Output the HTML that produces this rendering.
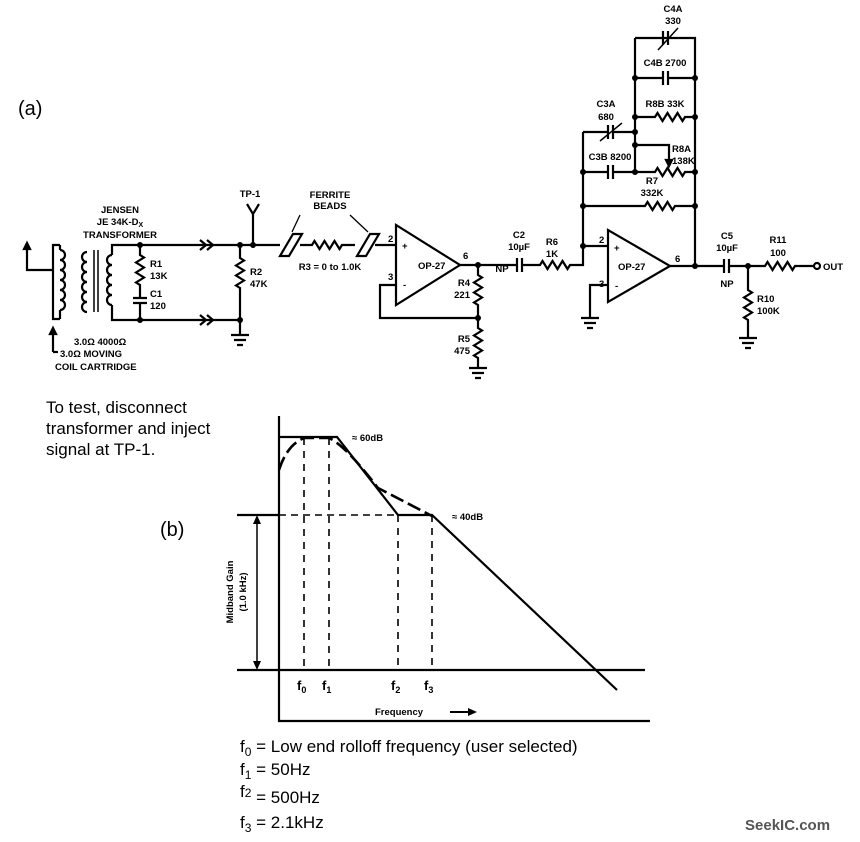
<!DOCTYPE html>
<html><head><meta charset="utf-8"><style>
body{margin:0;background:#fff;}
svg{display:block;}
.l{font-family:"Liberation Sans",Arial,sans-serif;font-weight:bold;font-size:9.5px;fill:#000;}
.n{font-family:"Liberation Sans",Arial,sans-serif;font-size:17px;fill:#000;}
</style></head><body>
<svg width="860" height="842" viewBox="0 0 860 842" xmlns="http://www.w3.org/2000/svg">
<rect width="860" height="842" fill="#fff"/>
<g fill="none" stroke="#000" stroke-width="2.2">
<path d="M27,245 V270 H53"/>
<path d="M27,243 l-3,6 h6 z" fill="#000"/>
<path d="M60,245 H53 V319 H60"/>
<path d="M60,250 a5,5 0 0 1 0,10 a5,5 0 0 1 0,10 a5,5 0 0 1 0,10 a5,5 0 0 1 0,10 a5,5 0 0 1 0,10 a5,5 0 0 1 0,10"/>
<path d="M60,245 V250 M60,310 V319"/>
<path d="M87,252 a5,5 0 0 0 0,10 a5,5 0 0 0 0,10 a5,5 0 0 0 0,10 a5,5 0 0 0 0,10 a5,5 0 0 0 0,10 a5,5 0 0 0 0,10"/>
<path d="M94,250 V312 M98,250 V312" stroke-width="1.5"/>
<path d="M112,255 a5,5 0 0 0 0,10 a5,5 0 0 0 0,10 a5,5 0 0 0 0,10 a5,5 0 0 0 0,10 a5,5 0 0 0 0,10"/>
<path d="M112,255 V245 H253 M112,305 V320 H240"/>
<path d="M53,352 V330"/><path d="M53,328 l-3,6 h6 z" fill="#000"/>
<path d="M53,352 H58"/>
<path d="M200,240 l6,5 l-6,5 M207,240 l6,5 l-6,5"/>
<path d="M200,315 l6,5 l-6,5 M207,315 l6,5 l-6,5"/>
<path d="M140,245 V255 l4,2.5 l-8,5 l8,5 l-8,5 l8,5 l-8,5 l4,2.5 V298 M133,298 H147 M133,303 H147 M140,303 V320"/>
<path d="M240,245 V258 l4,2.5 l-8,5 l8,5 l-8,5 l8,5 l-8,5 l4,2.5 V335"/>
<path d="M231,335 H249 M234,340 H246 M237,345 H243"/>
<path d="M253,245 V214 L247,204 M253,214 L259,204"/>
<path d="M253,245 H280 M300,245 H312 l2.5,-4 l5,8 l5,-8 l5,8 l5,-8 l5,8 l2.5,-4 H355 M375,245 H396"/>
<path d="M280,256 L293,234 H302 L289,256 Z"/>
<path d="M357,256 L370,234 H379 L366,256 Z"/>
<path d="M300,215 L292,232 M350,215 L368,232" stroke-width="1.3"/>
<path d="M396,225 V305 L460,265 Z"/>
<path d="M396,285 H380 V318 H478 M460,265 H517 M478,265 V275 l4,2.5 l-8,5 l8,5 l-8,5 l8,5 l-8,5 l4,2.5 V328 l4,2.5 l-8,5 l8,5 l-8,5 l8,5 l-8,5 l4,2.5 V368"/>
<path d="M469,368 H487 M472,373 H484 M475,378 H481"/>
<path d="M517,258 V272 M522,258 V272 M522,265 H540 l2.5,-4 l5,8 l5,-8 l5,8 l5,-8 l5,8 l2.5,-4 H583 V132 M583,246 H608"/>
<path d="M608,230 V302 L670,266 Z"/>
<path d="M608,285 H590 V318"/>
<path d="M581,318 H599 M584,323 H596 M587,328 H593"/>
<path d="M670,266 H724 M729,266 H765 l2.5,-4 l5,8 l5,-8 l5,8 l5,-8 l5,8 l2.5,-4 H814"/>
<path d="M724,259 V273 M729,259 V273"/>
<circle cx="817" cy="266" r="3"/>
<path d="M748,266 V290 l4,2.5 l-8,5 l8,5 l-8,5 l8,5 l-8,5 l4,2.5 V338"/>
<path d="M739,338 H757 M742,343 H754 M745,348 H751"/>
<path d="M635,38 H695 V266 M635,38 V172"/>
<path d="M635,78 H663 M668,78 H695 M663,71 V85 M668,71 V85"/>
<path d="M583,132 H608 M613,132 H635 M608,125 V139 M613,125 V139"/>
<path d="M663,31 V45 M668,31 V45"/>
<path d="M635,117 H655 l2.5,-4 l5,8 l5,-8 l5,8 l5,-8 l5,8 l2.5,-4 H695"/>
<path d="M583,172 H608 M613,172 H655 l2.5,-4 l5,8 l5,-8 l5,8 l5,-8 l5,8 l2.5,-4 H695 M608,165 V179 M613,165 V179"/>
<path d="M635,145 H669 V160"/><path d="M669,166 l-3,-6 h6 z" fill="#000"/>
<path d="M583,206 H645 l2.5,-4 l5,8 l5,-8 l5,8 l5,-8 l5,8 l2.5,-4 H695"/>
<path d="M600,141 L622,123 M658,50 L678,28" stroke-width="1.5"/>
</g>
<g fill="#000">
<circle cx="140" cy="245" r="3"/><circle cx="140" cy="320" r="3"/>
<circle cx="240" cy="245" r="3"/><circle cx="253" cy="245" r="3"/><circle cx="240" cy="320" r="3"/>
<circle cx="478" cy="265" r="3"/><circle cx="478" cy="318" r="3"/>
<circle cx="583" cy="246" r="3"/><circle cx="583" cy="206" r="3"/><circle cx="583" cy="172" r="3"/>
<circle cx="635" cy="78" r="3"/><circle cx="635" cy="117" r="3"/><circle cx="635" cy="132" r="3"/><circle cx="635" cy="145" r="3"/><circle cx="635" cy="172" r="3"/>
<circle cx="695" cy="78" r="3"/><circle cx="695" cy="117" r="3"/><circle cx="695" cy="172" r="3"/><circle cx="695" cy="206" r="3"/><circle cx="695" cy="266" r="3"/>
<circle cx="748" cy="266" r="3"/>
</g>
<g class="l">
<text x="120" y="213" text-anchor="middle">JENSEN</text>
<text x="120" y="225" text-anchor="middle">JE 34K-D<tspan font-size="7" dy="2">X</tspan></text>
<text x="120" y="238" text-anchor="middle">TRANSFORMER</text>
<text x="150" y="267">R1</text><text x="150" y="279">13K</text>
<text x="150" y="297">C1</text><text x="150" y="309">120</text>
<text x="250" y="275">R2</text><text x="250" y="287">47K</text>
<text x="250" y="197" text-anchor="middle">TP-1</text>
<text x="330" y="198" text-anchor="middle">FERRITE</text>
<text x="330" y="209" text-anchor="middle">BEADS</text>
<text x="330" y="270" text-anchor="middle">R3 = 0 to 1.0K</text>
<text x="74" y="345">3.0Ω 4000Ω</text>
<text x="60" y="357">3.0Ω MOVING</text>
<text x="55" y="370">COIL CARTRIDGE</text>
<text x="388" y="242">2</text><text x="388" y="280">3</text>
<text x="402" y="249">+</text><text x="403" y="288">-</text>
<text x="418" y="269">OP-27</text>
<text x="463" y="259">6</text>
<text x="470" y="286" text-anchor="end">R4</text><text x="470" y="298" text-anchor="end">221</text>
<text x="470" y="342" text-anchor="end">R5</text><text x="470" y="354" text-anchor="end">475</text>
<text x="519" y="238" text-anchor="middle">C2</text><text x="519" y="250" text-anchor="middle">10µF</text>
<text x="502" y="272" text-anchor="middle">NP</text>
<text x="552" y="245" text-anchor="middle">R6</text><text x="552" y="257" text-anchor="middle">1K</text>
<text x="599" y="243">2</text><text x="599" y="287">3</text>
<text x="614" y="251">+</text><text x="615" y="289">-</text>
<text x="618" y="270">OP-27</text>
<text x="675" y="262">6</text>
<text x="727" y="239" text-anchor="middle">C5</text><text x="727" y="251" text-anchor="middle">10µF</text>
<text x="727" y="287" text-anchor="middle">NP</text>
<text x="778" y="243" text-anchor="middle">R11</text><text x="778" y="256" text-anchor="middle">100</text>
<text x="823" y="270">OUT</text>
<text x="757" y="302">R10</text><text x="757" y="314">100K</text>
<text x="673" y="12" text-anchor="middle">C4A</text><text x="673" y="24" text-anchor="middle">330</text>
<text x="665" y="66" text-anchor="middle">C4B 2700</text>
<text x="665" y="107" text-anchor="middle">R8B 33K</text>
<text x="606" y="107" text-anchor="middle">C3A</text><text x="606" y="120" text-anchor="middle">680</text>
<text x="610" y="160" text-anchor="middle">C3B 8200</text>
<text x="672" y="152">R8A</text><text x="672" y="164">138K</text>
<text x="652" y="184" text-anchor="middle">R7</text><text x="652" y="196" text-anchor="middle">332K</text>
</g>
<text x="18" y="115" font-family="Liberation Sans,sans-serif" font-size="20">(a)</text>
<text x="160" y="536" font-family="Liberation Sans,sans-serif" font-size="20">(b)</text>
<g class="n" font-size="16">
<text x="46" y="413">To test, disconnect</text>
<text x="46" y="434">transformer and inject</text>
<text x="46" y="455">signal at TP-1.</text>
</g>
<g fill="none" stroke="#000" stroke-width="2.2">
<path d="M279,416 V721 H650"/>
<path d="M279,437 H337 L398,515 H432 L617,690"/>
<path d="M237,670 H645"/>
<path d="M237,515 H279"/>
<path d="M279,515 H398" stroke-dasharray="7,5" stroke-width="1.6"/>
<path d="M304,438 V670 M329,438 V670 M398,515 V670 M432,515 V670" stroke-dasharray="7,6" stroke-width="1.6"/>
<path d="M279,470 Q287,445 304,438 H329 Q345,445 378,488 L432,516" stroke-dasharray="14,5" stroke-width="2.6"/>
<path d="M257,522 V663" stroke-width="1.5"/>
<path d="M450,712 H470" stroke-width="2"/>
</g>
<path d="M257,515 l-4,9 h8 z M257,670 l-4,-9 h8 z M477,712 l-9,-4 v8 z" fill="#000"/>
<g class="l" font-size="11">
<text x="352" y="441">≈ 60dB</text>
<text x="452" y="520">≈ 40dB</text>
<text x="297" y="690" font-size="13">f<tspan font-size="9" dy="3">0</tspan></text>
<text x="322" y="690" font-size="13">f<tspan font-size="9" dy="3">1</tspan></text>
<text x="391" y="690" font-size="13">f<tspan font-size="9" dy="3">2</tspan></text>
<text x="424" y="690" font-size="13">f<tspan font-size="9" dy="3">3</tspan></text>
<text x="375" y="715">Frequency</text>
<text transform="translate(233,592) rotate(-90)" text-anchor="middle">Midband Gain</text>
<text transform="translate(246,592) rotate(-90)" text-anchor="middle">(1.0 kHz)</text>
</g>
<g class="n">
<text x="240" y="752">f<tspan font-size="12" dy="4">0</tspan><tspan dy="-4"> = Low end rolloff frequency (user selected)</tspan></text>
<text x="240" y="775">f<tspan font-size="12" dy="4">1</tspan><tspan dy="-4"> = 50Hz</tspan></text>
<text x="240" y="797">f<tspan font-size="12" dy="0">2</tspan><tspan dy="6"> = 500Hz</tspan></text>
<text x="240" y="828">f<tspan font-size="12" dy="4">3</tspan><tspan dy="-4"> = 2.1kHz</tspan></text>
</g>
<text x="745" y="830" font-family="Liberation Sans,sans-serif" font-weight="bold" font-size="15" fill="#555">SeekIC.com</text>
</svg>
</body></html>
